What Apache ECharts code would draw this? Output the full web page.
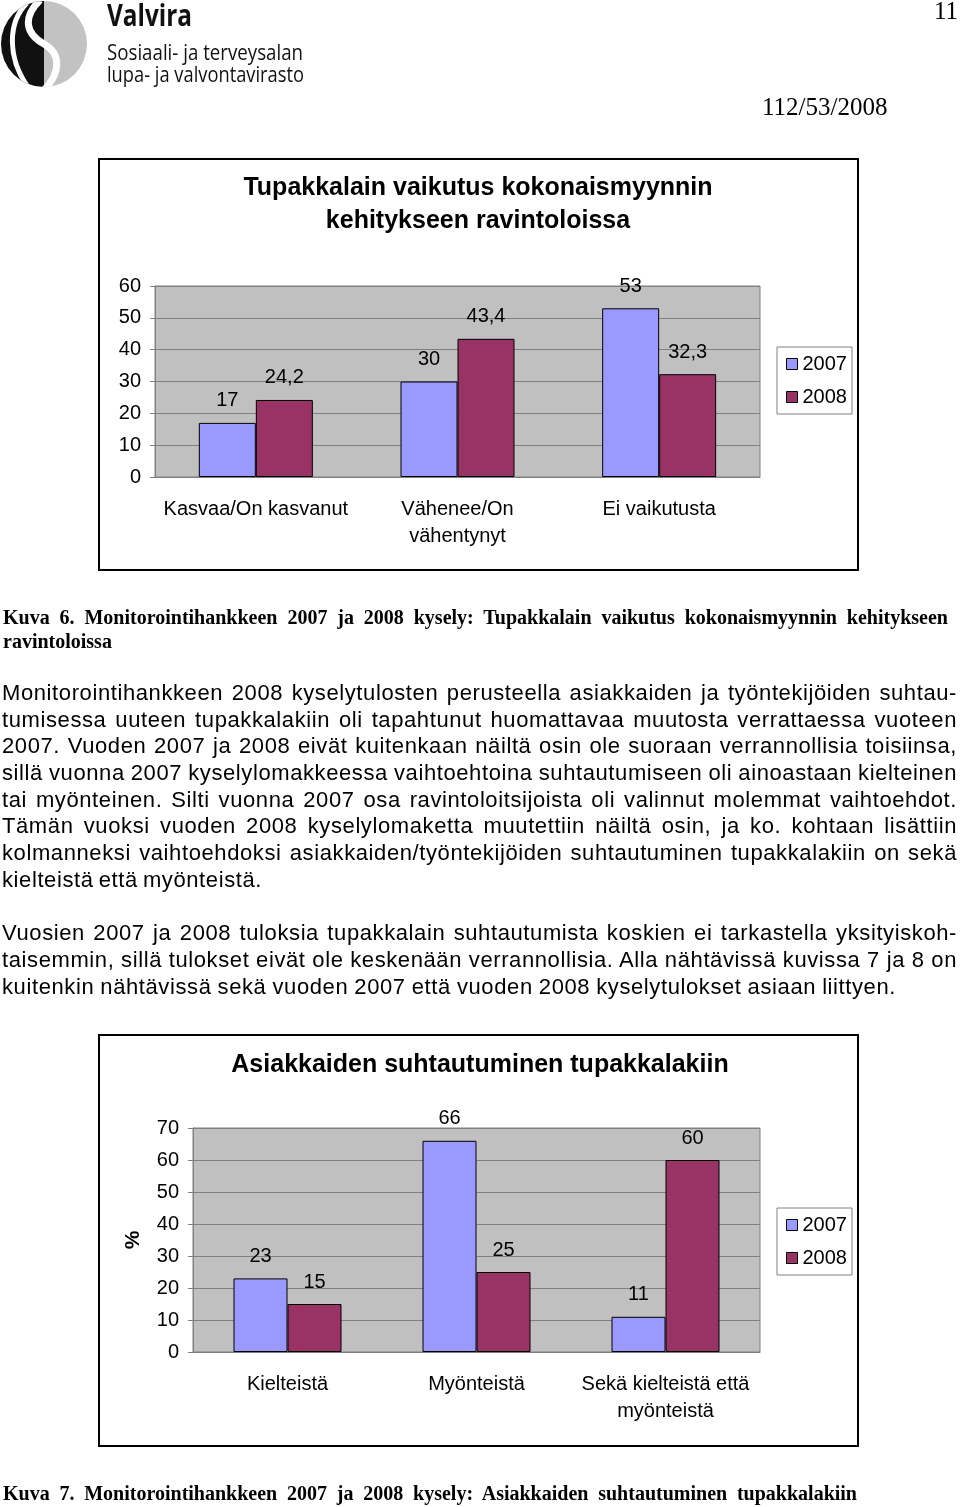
<!DOCTYPE html>
<html>
<head>
<meta charset="utf-8">
<script src="https://cdn.jsdelivr.net/npm/echarts@6/dist/echarts.min.js"></script>
<style>
html,body{margin:0;padding:0;background:#fff;}
#page{position:relative;width:960px;height:1507px;overflow:hidden;}
#chart{position:absolute;left:0;top:0;width:960px;height:1507px;}
.ln{position:absolute;white-space:nowrap;line-height:26px;height:26px;color:#000;z-index:2;}
.body{font-family:'Liberation Sans',Arial,sans-serif;font-size:22px;letter-spacing:0.6px;}
.cap{font-family:'Liberation Serif','Times New Roman',serif;font-size:20px;font-weight:bold;}
.ser{font-family:'Liberation Serif','Times New Roman',serif;font-size:25px;}
</style>
</head>
<body>
<div id="page">
<div id="chart"></div>
<svg width="320" height="95" style="position:absolute;left:0;top:0;z-index:2">
  <defs><clipPath id="cc"><circle cx="44" cy="44" r="43"/></clipPath></defs>
  <g clip-path="url(#cc)">
    <rect x="0" y="0" width="44" height="90" fill="#111"/>
    <rect x="44" y="0" width="46" height="90" fill="#c2c2c2"/>
    <path d="M27 3 C 8 22, 6 58, 30 90" stroke="#fff" stroke-width="5" fill="none"/>
    <path d="M40 0 C 22 18, 26 34, 44 44 C 62 54, 60 74, 44 90" stroke="#fff" stroke-width="7" fill="none"/>
  </g>
  <text x="107" y="26" font-family="'Open Sans','Noto Sans',sans-serif" font-size="30" font-weight="700" fill="#111" textLength="85" lengthAdjust="spacingAndGlyphs">Valvira</text>
  <text x="107" y="60" font-family="'Open Sans','Noto Sans',sans-serif" font-size="21" fill="#111" textLength="196" lengthAdjust="spacingAndGlyphs">Sosiaali- ja terveysalan</text>
  <text x="107" y="82" font-family="'Open Sans','Noto Sans',sans-serif" font-size="21" fill="#111" textLength="197" lengthAdjust="spacingAndGlyphs">lupa- ja valvontavirasto</text>
</svg>
<div class="ln ser" style="left:934px;top:-2px;">11</div>
<div class="ln ser" style="left:762px;top:94px;">112/53/2008</div>

<div class="ln cap" data-w="945" style="left:3px;top:604px;">Kuva 6. Monitorointihankkeen 2007 ja 2008 kysely: Tupakkalain vaikutus kokonaismyynnin kehitykseen</div>
<div class="ln cap" style="left:3px;top:628px;">ravintoloissa</div>

<div class="ln body" data-w="955" style="left:2px;top:680px;">Monitorointihankkeen 2008 kyselytulosten perusteella asiakkaiden ja työntekijöiden suhtau-</div>
<div class="ln body" data-w="955" style="left:2px;top:707px;">tumisessa uuteen tupakkalakiin oli tapahtunut huomattavaa muutosta verrattaessa vuoteen</div>
<div class="ln body" data-w="955" style="left:2px;top:733px;">2007. Vuoden 2007 ja 2008 eivät kuitenkaan näiltä osin ole suoraan verrannollisia toisiinsa,</div>
<div class="ln body" data-w="955" style="left:2px;top:760px;">sillä vuonna 2007 kyselylomakkeessa vaihtoehtoina suhtautumiseen oli ainoastaan kielteinen</div>
<div class="ln body" data-w="955" style="left:2px;top:787px;">tai myönteinen. Silti vuonna 2007 osa ravintoloitsijoista oli valinnut molemmat vaihtoehdot.</div>
<div class="ln body" data-w="955" style="left:2px;top:813px;">Tämän vuoksi vuoden 2008 kyselylomaketta muutettiin näiltä osin, ja ko. kohtaan lisättiin</div>
<div class="ln body" data-w="955" style="left:2px;top:840px;">kolmanneksi vaihtoehdoksi asiakkaiden/työntekijöiden suhtautuminen tupakkalakiin on sekä</div>
<div class="ln body" data-w="260" style="left:2px;top:867px;">kielteistä että myönteistä.</div>

<div class="ln body" data-w="955" style="left:2px;top:920px;">Vuosien 2007 ja 2008 tuloksia tupakkalain suhtautumista koskien ei tarkastella yksityiskoh-</div>
<div class="ln body" data-w="955" style="left:2px;top:947px;">taisemmin, sillä tulokset eivät ole keskenään verrannollisia. Alla nähtävissä kuvissa 7 ja 8 on</div>
<div class="ln body" data-w="894" style="left:2px;top:974px;">kuitenkin nähtävissä sekä vuoden 2007 että vuoden 2008 kyselytulokset asiaan liittyen.</div>

<div class="ln cap" data-w="854" style="left:3px;top:1480px;">Kuva 7. Monitorointihankkeen 2007 ja 2008 kysely: Asiakkaiden suhtautuminen tupakkalakiin</div>
</div>
<script>
// ---- data ----
const years = ['2007', '2008'];
const cats1 = ['Kasvaa/On kasvanut', 'Vähenee/On\nvähentynyt', 'Ei vaikutusta'];
const sales2007 = [17, 30, 53];
const sales2008 = [24.2, 43.4, 32.3];
const cats2 = ['Kielteistä', 'Myönteistä', 'Sekä kielteistä että\nmyönteistä'];
const att2007 = [23, 66, 11];
const att2008 = [15, 25, 60];
const title1 = 'Tupakkalain vaikutus kokonaismyynnin\nkehitykseen ravintoloissa';
const title2 = 'Asiakkaiden suhtautuminen tupakkalakiin';

// ---- justify text lines ----
document.querySelectorAll('.ln[data-w]').forEach(el => {
  const target = parseFloat(el.dataset.w);
  const w = el.getBoundingClientRect().width;
  const spaces = (el.textContent.match(/ /g) || []).length;
  if (spaces > 0) el.style.wordSpacing = ((target - w) / spaces) + 'px';
});

const FONT = "'Liberation Sans', Arial, sans-serif";
const C07 = '#9999ff', C08 = '#993366', GRID = '#808080';
const fmt = p => String(p.value).replace('.', ',');

function xAx(i, data) {
  return {
    gridIndex: i, type: 'category', data: data,
    axisLine: {lineStyle: {color: GRID}},
    axisTick: {length: 6, lineStyle: {color: GRID}},
    axisLabel: {fontSize: 20, color: '#000', margin: 19, lineHeight: 27, interval: 0, fontFamily: FONT}
  };
}
function yAx(i, max, extra) {
  return Object.assign({
    gridIndex: i, type: 'value', min: 0, max: max, interval: 10,
    axisLine: {show: true, lineStyle: {color: GRID}},
    axisTick: {show: true, length: 5, lineStyle: {color: GRID}},
    splitLine: {lineStyle: {color: GRID, width: 1}},
    axisLabel: {fontSize: 20, color: '#000', margin: 14, fontFamily: FONT}
  }, extra || {});
}
function bar(i, name, data, color, w) {
  return {
    type: 'bar', name: name, xAxisIndex: i, yAxisIndex: i, data: data,
    barWidth: w, barGap: '0%',
    itemStyle: {color: color, borderColor: '#000', borderWidth: 1},
    label: {show: true, position: 'top', distance: 12, fontSize: 20, color: '#000', fontFamily: FONT, formatter: fmt}
  };
}
function leg(top) {
  return {
    data: years, orient: 'vertical', left: 777, top: top,
    padding: [7, 5, 7, 9], itemGap: 13, itemWidth: 11, itemHeight: 11,
    backgroundColor: '#fff', borderColor: GRID, borderWidth: 1, borderRadius: 0,
    icon: 'rect',
    textStyle: {fontSize: 20, color: '#000', fontFamily: FONT},
    itemStyle: {borderColor: '#000', borderWidth: 1}
  };
}

const chart = echarts.init(document.getElementById('chart'), null, {renderer: 'canvas'});
chart.setOption({
  animation: false,
  textStyle: {fontFamily: FONT, color: '#000'},
  graphic: [
    {type: 'rect', shape: {x: 99, y: 159, width: 759, height: 411}, style: {fill: 'none', stroke: '#000', lineWidth: 2}},
    {type: 'rect', shape: {x: 99, y: 1035, width: 759, height: 411}, style: {fill: 'none', stroke: '#000', lineWidth: 2}},
    {type: 'text', x: 478, y: 205, style: {text: title1, align: 'center', verticalAlign: 'middle', font: "bold 25px 'Liberation Sans', Arial, sans-serif", lineHeight: 33, fill: '#000'}},
    {type: 'text', x: 480, y: 1065, style: {text: title2, align: 'center', verticalAlign: 'middle', font: "bold 25px 'Liberation Sans', Arial, sans-serif", fill: '#000'}}
  ],
  grid: [
    {left: 155, top: 286, width: 605, height: 191, show: true, backgroundColor: '#c0c0c0', borderColor: GRID, borderWidth: 1},
    {left: 193, top: 1128, width: 567, height: 224, show: true, backgroundColor: '#c0c0c0', borderColor: GRID, borderWidth: 1}
  ],
  legend: [leg(347), leg(1208)],
  xAxis: [xAx(0, cats1), xAx(1, cats2)],
  yAxis: [
    yAx(0, 60),
    yAx(1, 70, {name: '%', nameLocation: 'middle', nameGap: 49, nameRotate: 90,
      nameTextStyle: {fontSize: 21, fontWeight: 'bold', color: '#000', fontFamily: FONT}})
  ],
  series: [
    bar(0, years[0], sales2007, C07, 57),
    bar(0, years[1], sales2008, C08, 57),
    bar(1, years[0], att2007, C07, 54),
    bar(1, years[1], att2008, C08, 54)
  ]
});
</script>
</body>
</html>
